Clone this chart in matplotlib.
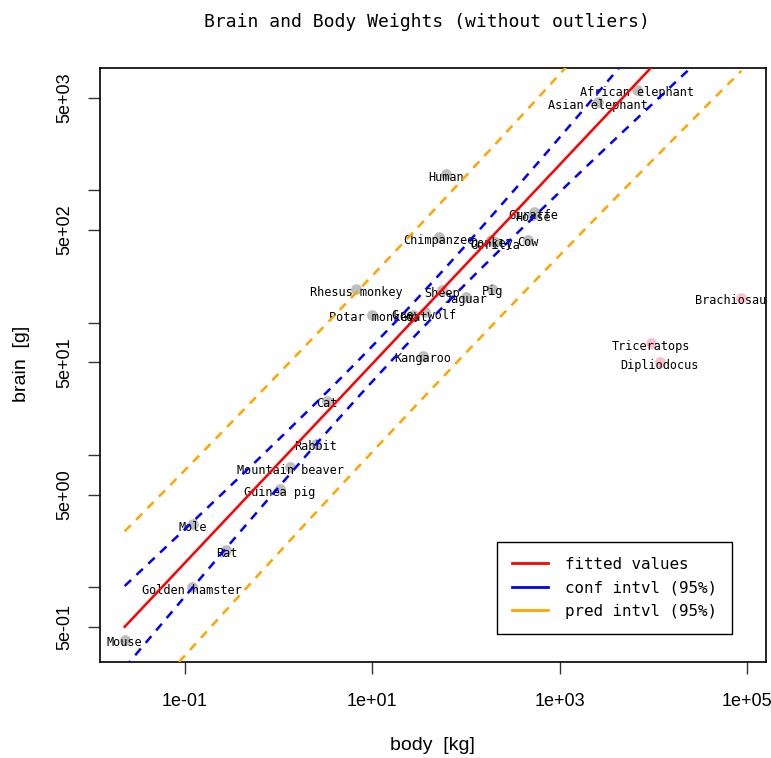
import numpy as np
import matplotlib.pyplot as plt
from matplotlib.transforms import offset_copy

# Animals data (MASS), body in kg, brain in g
animals = ['Mountain beaver', 'Cow', 'Grey wolf', 'Goat', 'Guinea pig',
           'Dipliodocus', 'Asian elephant', 'Donkey', 'Horse', 'Potar monkey',
           'Cat', 'Giraffe', 'Gorilla', 'Human', 'African elephant',
           'Triceratops', 'Rhesus monkey', 'Kangaroo', 'Golden hamster',
           'Mouse', 'Rabbit', 'Sheep', 'Jaguar', 'Chimpanzee', 'Rat',
           'Brachiosaurus', 'Mole', 'Pig']
body = [1.35, 465, 36.33, 27.66, 1.04, 11700, 2547, 187.1, 521, 10,
        3.3, 529, 207, 62, 6654, 9400, 6.8, 35, 0.12, 0.023,
        2.5, 55.5, 100, 52.16, 0.28, 87000, 0.122, 192]
brain = [8.1, 423, 119.5, 115, 5.5, 50, 4603, 419, 655, 115,
         25.6, 680, 406, 1320, 5712, 70, 179, 56, 1, 0.4,
         12.1, 175, 157, 440, 1.9, 154.5, 3, 180]
outliers = ['Brachiosaurus', 'Triceratops', 'Dipliodocus']

mono = 'DejaVu Sans Mono'
sans = 'Liberation Sans'


def bands(x, y, xnew, t=2.0687):
    # lm(log(brain) ~ log(body)) with 95% confidence / prediction bands
    lx, ly = np.log10(x), np.log10(y)
    n = len(lx)
    X = np.column_stack([np.ones(n), lx])
    beta = np.linalg.lstsq(X, ly, rcond=None)[0]
    res = ly - X @ beta
    s2 = res @ res / (n - 2)
    XtXi = np.linalg.inv(X.T @ X)
    Xn = np.column_stack([np.ones(len(xnew)), np.log10(xnew)])
    fit = Xn @ beta
    se2 = np.einsum('ij,jk,ik->i', Xn, XtXi, Xn) * s2
    conf = t * np.sqrt(se2)
    pred = t * np.sqrt(se2 + s2)
    return fit, conf, pred


body = np.array(body)
brain = np.array(brain)
is_out = np.array([a in outliers for a in animals])

xnew = np.logspace(np.log10(body.min()), np.log10(body.max()), 200)
fit, conf, pred = bands(body[~is_out], brain[~is_out], xnew)

fig = plt.figure(figsize=(7.71, 7.58), dpi=100)
ax = fig.add_axes([100 / 771, 96 / 758, 666 / 771, 594 / 758])

ax.scatter(body[~is_out], brain[~is_out], s=60, color='#BEBEBE', zorder=2, lw=0)
ax.scatter(body[is_out], brain[is_out], s=60, color='#FFC0CB', zorder=2, lw=0)
tr = offset_copy(ax.transData, fig=fig, x=0, y=-3, units='dots')
for a, bx, by in zip(animals, body, brain):
    ax.text(bx, by, a, ha='center', va='center', fontsize=8.6, family=mono,
            zorder=3, clip_on=True, transform=tr)

dash = (0, (3.5, 3))
ax.plot(xnew, 10 ** fit, color='red', lw=1.8, zorder=4)
ax.plot(xnew, 10 ** (fit - conf), color='blue', lw=1.8, ls=dash, zorder=4)
ax.plot(xnew, 10 ** (fit + conf), color='blue', lw=1.8, ls=dash, zorder=4)
ax.plot(xnew, 10 ** (fit - pred), color='orange', lw=1.8, ls=dash, zorder=4)
ax.plot(xnew, 10 ** (fit + pred), color='orange', lw=1.8, ls=dash, zorder=4)

ax.set_xscale('log')
ax.set_yscale('log')
lx0, lx1 = np.log10(body.min()), np.log10(body.max())
ly0, ly1 = np.log10(brain.min()), np.log10(brain.max())
px, py = 0.04 * (lx1 - lx0), 0.04 * (ly1 - ly0)
ax.set_xlim(10 ** (lx0 - px), 10 ** (lx1 + px))
ax.set_ylim(10 ** (ly0 - py), 10 ** (ly1 + py))

ax.minorticks_off()
ax.set_xticks([0.1, 10, 1000, 1e5], ['1e-01', '1e+01', '1e+03', '1e+05'])
ax.set_yticks([0.5, 1, 5, 10, 50, 100, 500, 1000, 5000],
              ['5e-01', '', '5e+00', '', '5e+01', '', '5e+02', '', '5e+03'])
ax.tick_params(axis='x', length=8.5, width=1, color='#333333', pad=14,
               labelsize=13)
ax.tick_params(axis='y', length=8.5, width=1, color='#333333', pad=11,
               labelsize=13, labelrotation=90)
for lab in ax.get_yticklabels():
    lab.set_va('center')
for lab in ax.get_xticklabels() + ax.get_yticklabels():
    lab.set_family(sans)
for sp in ax.spines.values():
    sp.set_linewidth(1.2)

leg = ax.legend(handles=[plt.Line2D([], [], color='red', lw=2),
                         plt.Line2D([], [], color='blue', lw=2),
                         plt.Line2D([], [], color='orange', lw=2)],
                labels=['fitted values', 'conf intvl (95%)', 'pred intvl (95%)'],
                loc='lower right', bbox_to_anchor=(0.949, 0.047),
                borderaxespad=0, fancybox=False, edgecolor='black',
                framealpha=1, prop={'family': mono, 'size': 11.4},
                handlelength=2.28, handletextpad=1.07, labelspacing=0.55,
                borderpad=0.95)
leg.get_frame().set_linewidth(1)

fig.text(427 / 771, 1 - 22 / 758, 'Brain and Body Weights (without outliers)',
         ha='center', va='center', fontsize=13, family=mono)
fig.text(432 / 771, 1 - 746 / 758, 'body  [kg]', ha='center', va='center',
         fontsize=14, family=sans)
fig.text(22 / 771, 1 - 364 / 758, 'brain  [g]', ha='center', va='center',
         fontsize=14, family=sans, rotation=90)

fig.savefig('out.png', dpi=100)
